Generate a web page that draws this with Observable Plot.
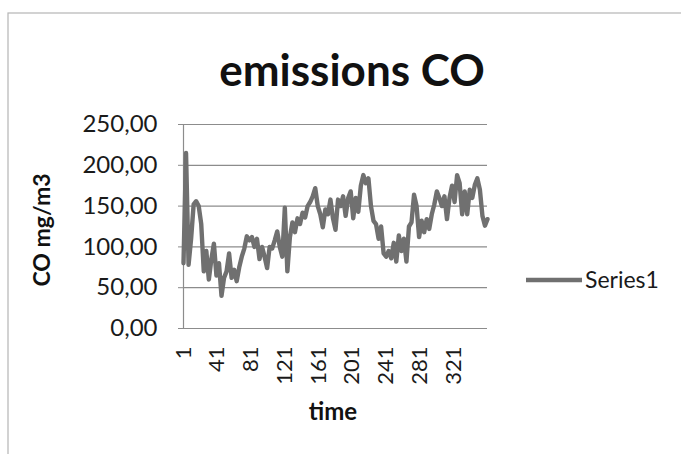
<!DOCTYPE html>
<html>
<head>
<meta charset="utf-8">
<script src="https://cdn.jsdelivr.net/npm/d3@7"></script>
<script src="https://cdn.jsdelivr.net/npm/@observablehq/plot@0.6"></script>
<style>
  html, body { margin: 0; padding: 0; background: #fff; }
</style>
</head>
<body>
<div id="chart"></div>
<script>
// ---- data (one reading every 3 time steps) ----
const chartTitle = "emissions CO";
const yTitle = "CO mg/m3";
const xTitle = "time";
const seriesName = "Series1";
const timeStep = 3;
const coValues = [
  80, 215, 78, 110, 152, 156, 150, 128, 70, 95,
  60, 85, 104, 65, 80, 40, 62, 70, 92, 62,
  72, 58, 75, 88, 98, 113, 108, 112, 100, 110,
  85, 100, 88, 74, 100, 98, 108, 119, 100, 88,
  148, 70, 112, 130, 118, 135, 128, 142, 136, 150,
  155, 162, 172, 150, 140, 124, 146, 140, 158, 135,
  121, 158, 150, 162, 138, 160, 168, 135, 160, 143,
  175, 188, 178, 184, 150, 132, 128, 110, 125, 92,
  88, 95, 86, 105, 82, 114, 95, 110, 82, 125,
  130, 164, 150, 112, 132, 118, 134, 122, 140, 152,
  168, 160, 150, 162, 134, 160, 175, 155, 188, 178,
  140, 168, 140, 170, 160, 176, 184, 170, 138, 126,
  134
];
const xTickValues = [1, 41, 81, 121, 161, 201, 241, 281, 321];
const yTickValues = [0, 50, 100, 150, 200, 250];

const data = coValues.map((v, i) => ({time: 1 + timeStep * i, co: v}));
const lastTime = 1 + timeStep * (coValues.length - 1);

const font = "Lato, 'DejaVu Sans', sans-serif";
const lineColor = "#707070";
const gridColor = "#8c8c8c";

const chart = Plot.plot({
  width: 681,
  height: 454,
  marginLeft: 183,
  marginRight: 194,
  marginTop: 124,
  marginBottom: 126,
  style: {fontFamily: font, fontSize: "21px", color: "#1a1a1a", background: "#fff"},
  x: {domain: [1, lastTime], label: null},
  y: {domain: [0, 250], label: null},
  marks: [
    Plot.gridY(yTickValues, {stroke: gridColor, strokeOpacity: 1, strokeWidth: 1.2}),
    Plot.ruleX([1], {stroke: gridColor, strokeWidth: 1.2}),
    Plot.axisY(yTickValues, {
      tickSize: 5, stroke: gridColor, label: null, text: null
    }),
    Plot.axisY(yTickValues, {
      tickSize: 0, tickPadding: 26,
      tickFormat: d => d.toFixed(2).replace(".", ","),
      fontSize: 24, label: null
    }),
    Plot.axisX(xTickValues, {
      tickSize: 0, tickPadding: 18, tickRotate: -90,
      tickFormat: d => String(d), fontSize: 22, label: null
    }),
    Plot.line(data, {x: "time", y: "co", stroke: lineColor, strokeWidth: 4.4, strokeLinejoin: "round"})
  ]
});

document.getElementById("chart").appendChild(chart);
const svg = d3.select(chart);

// outer chart border (as in the scanned spreadsheet chart)
svg.insert("rect", ":first-child")
  .attr("x", 8).attr("y", 13).attr("width", 700).attr("height", 470)
  .attr("fill", "none").attr("stroke", "#b5b5b5").attr("stroke-width", 1.2);

// title
svg.append("text")
  .attr("x", 352).attr("y", 86)
  .attr("text-anchor", "middle")
  .attr("font-family", font).attr("font-weight", "bold").attr("font-size", 44)
  .attr("fill", "#111")
  .text(chartTitle);

// y-axis title
svg.append("text")
  .attr("transform", "translate(50,230) rotate(-90)")
  .attr("text-anchor", "middle")
  .attr("font-family", font).attr("font-weight", "bold").attr("font-size", 23)
  .attr("fill", "#111")
  .text(yTitle);

// x-axis title
svg.append("text")
  .attr("x", 333).attr("y", 420)
  .attr("text-anchor", "middle")
  .attr("font-family", font).attr("font-weight", "bold").attr("font-size", 24)
  .attr("fill", "#111")
  .text(xTitle);

// legend
svg.append("line")
  .attr("x1", 526).attr("x2", 582).attr("y1", 280).attr("y2", 280)
  .attr("stroke", lineColor).attr("stroke-width", 4.4);
svg.append("text")
  .attr("x", 585).attr("y", 288)
  .attr("text-anchor", "start")
  .attr("font-family", font).attr("font-size", 23)
  .attr("fill", "#1a1a1a")
  .text(seriesName);
</script>
</body>
</html>
